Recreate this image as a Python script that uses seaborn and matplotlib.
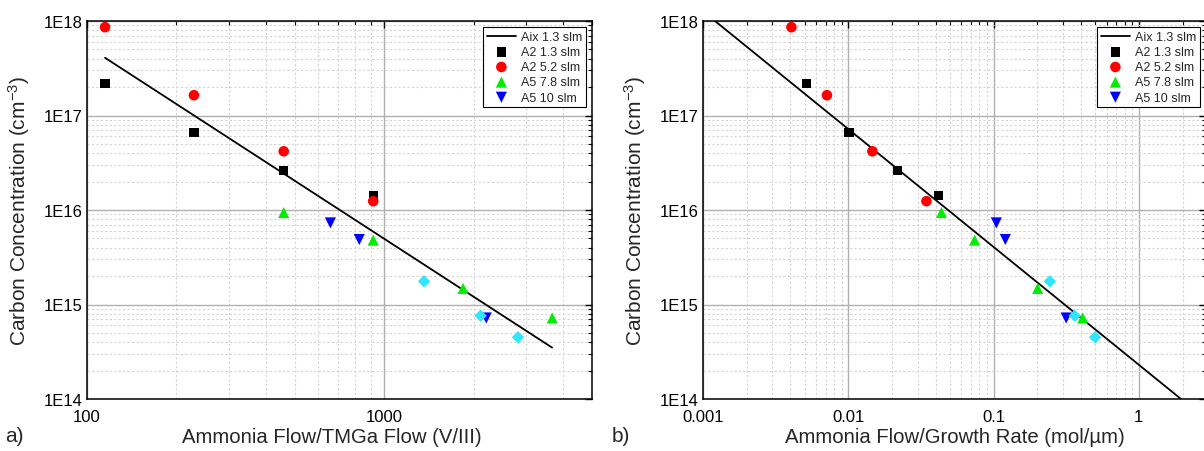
import numpy as np
import pandas as pd
import matplotlib
matplotlib.use("Agg")
import matplotlib.pyplot as plt
import seaborn as sns
from matplotlib.ticker import LogLocator, FuncFormatter, NullFormatter

# ---------------- data ----------------
# panel a: V/III ratio
a_A2_13_x = [115, 229, 459, 918]
a_A2_13_y = [2.18e17, 6.6e16, 2.61e16, 1.43e16]
a_A2_52_x = [115, 229, 459, 918]
a_A2_52_y = [8.6e17, 1.64e17, 4.18e16, 1.24e16]
a_A5_78_x = [459, 918, 1841, 3673]
a_A5_78_y = [9.4e15, 4.8e15, 1.48e15, 7.2e14]
a_A5_10_x = [659, 824, 2204]
a_A5_10_y = [7.3e15, 4.87e15, 7.2e14]
a_cyan_x = [1361, 2109, 2818]
a_cyan_y = [1.76e15, 7.6e14, 4.5e14]
a_aix_x = [115, 3670]
a_aix_y = [4.08e17, 3.5e14]

# panel b: ammonia flow / growth rate
b_A2_13_x = [0.00515, 0.0101, 0.0218, 0.0418]
b_A2_13_y = [2.18e17, 6.6e16, 2.6e16, 1.43e16]
b_A2_52_x = [0.00406, 0.00713, 0.01465, 0.0345]
b_A2_52_y = [8.6e17, 1.64e17, 4.18e16, 1.24e16]
b_A5_78_x = [0.0438, 0.074, 0.201, 0.411]
b_A5_78_y = [9.4e15, 4.8e15, 1.48e15, 7.2e14]
b_A5_10_x = [0.1045, 0.1205, 0.316]
b_A5_10_y = [7.3e15, 4.87e15, 7.2e14]
b_cyan_x = [0.244, 0.362, 0.50]
b_cyan_y = [1.76e15, 7.6e14, 4.5e14]
b_aix_x = [0.00121, 1.95]
b_aix_y = [1.0e18, 1.0e14]

series_labels = ["A2 1.3 slm", "A2 5.2 slm", "A5 7.8 slm", "A5 10 slm"]
line_label = "Aix 1.3 slm"

# ---------------- style ----------------
sns.set_style("white")
plt.rcParams['font.family'] = ['Liberation Sans', 'DejaVu Sans']
plt.rcParams['mathtext.default'] = 'regular'

fig = plt.figure(figsize=(12.04, 4.52), dpi=100)
W, H = 1204, 452
axA = fig.add_axes([87 / W, 1 - 400 / H, (592 - 87) / W, (400 - 22) / H])
axB = fig.add_axes([703 / W, 1 - 400 / H, (1206 - 703) / W, (400 - 22) / H])

colors = ["black", "#ff0000", "#00ee00", "#0000ff"]
markers = ["s", "o", "^", "v"]
sizes = [45, 58, 64, 64]
cyan = "#2ee6ff"


def draw(ax, lx, ly, xs, ys, cx, cy):
    sns.lineplot(x=lx, y=ly, ax=ax, color="black", lw=1.3, label=line_label,
                 zorder=3)
    for x, y, c, m, s, lab in zip(xs, ys, colors, markers, sizes, series_labels):
        sns.scatterplot(x=x, y=y, ax=ax, color=c, marker=m, s=s,
                        edgecolor="none", label=lab, zorder=4)
    sns.scatterplot(x=cx, y=cy, ax=ax, color=cyan, marker="D", s=40,
                    edgecolor="none", legend=False, zorder=4)


draw(axA, a_aix_x, a_aix_y,
     [a_A2_13_x, a_A2_52_x, a_A5_78_x, a_A5_10_x],
     [a_A2_13_y, a_A2_52_y, a_A5_78_y, a_A5_10_y], a_cyan_x, a_cyan_y)
draw(axB, b_aix_x, b_aix_y,
     [b_A2_13_x, b_A2_52_x, b_A5_78_x, b_A5_10_x],
     [b_A2_13_y, b_A2_52_y, b_A5_78_y, b_A5_10_y], b_cyan_x, b_cyan_y)

axA.set_xlim(100, 5000)
axB.set_xlim(0.001, 10 ** ((1206 - 1139) / 145))
yfmt = FuncFormatter(lambda v, p: "1E%d" % int(round(np.log10(v))))

for ax in (axA, axB):
    ax.set_xscale("log")
    ax.set_yscale("log")
    ax.set_ylim(1e14, 1e18)
    ax.yaxis.set_major_locator(LogLocator(base=10, numticks=10))
    ax.yaxis.set_minor_locator(LogLocator(base=10, subs=np.arange(2, 10), numticks=20))
    ax.yaxis.set_major_formatter(yfmt)
    ax.yaxis.set_minor_formatter(NullFormatter())
    ax.xaxis.set_minor_locator(LogLocator(base=10, subs=np.arange(2, 10), numticks=20))
    ax.xaxis.set_minor_formatter(NullFormatter())
    ax.grid(True, which="major", color="#b0b0b0", lw=1.0, ls="-", zorder=0)
    ax.grid(True, which="minor", color="#d4d4d4", lw=0.8, ls=(0, (2, 2)), zorder=0)
    ax.set_axisbelow(True)
    ax.tick_params(which="both", direction="in", top=True, right=True,
                   labelsize=12, colors="black")
    ax.tick_params(axis="y", which="both", pad=3)
    ax.tick_params(axis="x", which="both", pad=7)
    ax.tick_params(which="major", length=5, width=1)
    ax.tick_params(which="minor", length=3, width=0.8)
    for sp in ax.spines.values():
        sp.set_color("black")
        sp.set_linewidth(1.1)
    ax.set_ylabel("Carbon Concentration (cm$^{-3}$)", fontsize=15)
    leg = ax.legend(loc="upper right", fontsize=9, frameon=True, fancybox=False,
                    edgecolor="black", framealpha=1, borderaxespad=0.5,
                    handlelength=2.3, handletextpad=0.4, labelspacing=0.25,
                    borderpad=0.3)
    leg.get_frame().set_linewidth(0.8)

axA.xaxis.set_major_formatter(FuncFormatter(lambda v, p: "%d" % v))
axB.xaxis.set_major_formatter(FuncFormatter(lambda v, p: ("%g" % v)))

axA.set_xlabel("Ammonia Flow/TMGa Flow (V/III)", fontsize=14.6)
axB.set_xlabel("Ammonia Flow/Growth Rate (mol/µm)", fontsize=14.6)
axA.xaxis.set_label_coords((332 - 87) / (592 - 87), -0.074)
axB.xaxis.set_label_coords((955 - 703) / (1206 - 703), -0.074)
axA.yaxis.set_label_coords((32 - 87) / (592 - 87), 0.5)
axB.yaxis.set_label_coords((648 - 703) / (1206 - 703), 0.5)

fig.text(5 / W, 1 - 437 / H, "a)", fontsize=15, va="center", ha="left")
fig.text(612 / W, 1 - 437 / H, "b)", fontsize=15, va="center", ha="left")

fig.savefig("out.png", dpi=100)
